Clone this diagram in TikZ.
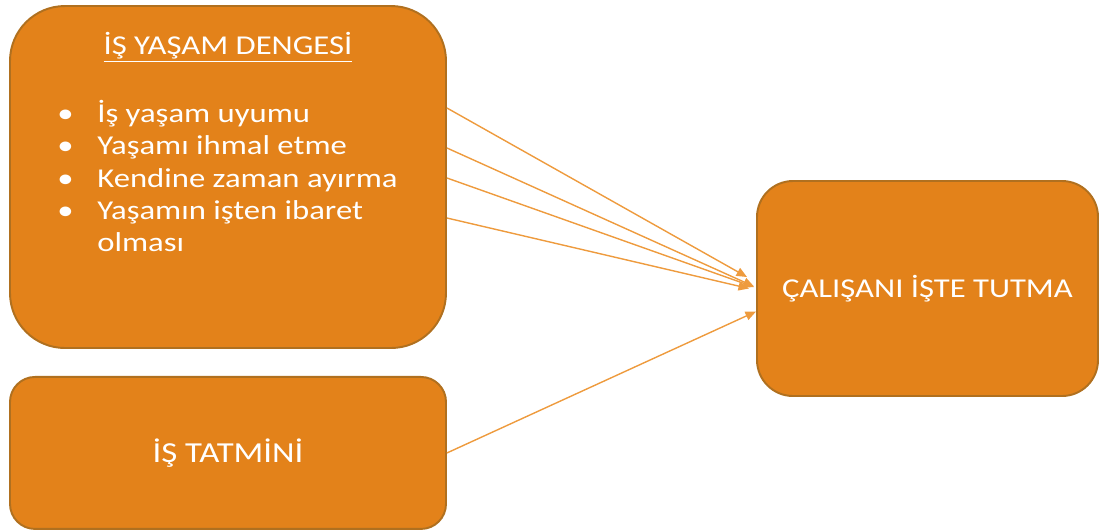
\documentclass[tikz,border=0pt]{standalone}
\usepackage{fontspec}
\setmainfont{Carlito}[FakeStretch=1.2]
\usepackage{tikz}
\usetikzlibrary{arrows.meta,positioning}
\definecolor{boxfill}{HTML}{E3821A}
\definecolor{boxedge}{HTML}{B0701F}
\definecolor{arrowline}{HTML}{EE9B3E}
\tikzset{
  factorbox/.style={
    draw=boxedge,
    line width=1.1pt,
    fill=boxfill,
    text=white,
    align=center,
    inner sep=6pt
  },
  boxtext/.style={text=white, font=\fontsize{15.5}{18.4}\selectfont, align=left, inner sep=0pt},
  linkarrow/.style={-{Triangle[length=6pt,width=5pt]}, line width=0.8pt, draw=arrowline, fill=arrowline}
}
\newcommand{\itemdot}{\makebox[0.8cm][l]{\textbullet}}

\begin{document}
\begin{tikzpicture}
  \useasboundingbox (0,0) rectangle (22,-10.58);

  \node[factorbox, rounded corners=1.1cm, minimum width=8.72cm, minimum height=6.84cm] (balance) at (4.56,-3.54) {};
  \node[factorbox, rounded corners=0.5cm, minimum width=8.72cm, minimum height=3.04cm,
        below=0.54cm of balance, font=\fontsize{16.5}{20}\selectfont] (satisfaction) {İŞ TATMİNİ};
  \node[factorbox, rounded corners=0.72cm, minimum width=6.82cm, minimum height=4.3cm,
        font=\fontsize{15.5}{18.4}\selectfont] (retention) at (18.55,-5.77) {ÇALIŞANI İŞTE TUTMA};

  \node[boxtext, anchor=base] (title) at ([yshift=-0.98cm]balance.north) {\underline{İŞ YAŞAM DENGESİ}};
  \node[boxtext, anchor=north west] (items) at (1.14,-2.0)
    {\itemdot İş yaşam uyumu\\
     \itemdot Yaşamı ihmal etme\\
     \itemdot Kendine zaman ayırma\\
     \itemdot Yaşamın işten ibaret\\
     \hspace*{0.8cm}olması};

  \draw[linkarrow] ([yshift=1.38cm]balance.east) -- ([yshift=0.23cm, xshift=-0.18cm]retention.west);
  \draw[linkarrow] ([yshift=0.58cm]balance.east) -- ([yshift=0.04cm, xshift=-0.04cm]retention.west);
  \draw[linkarrow] ([yshift=-0.02cm]balance.east) -- ([yshift=0.03cm, xshift=-0.04cm]retention.west);
  \draw[linkarrow] ([yshift=-0.82cm]balance.east) -- ([xshift=-0.14cm]retention.west);
  \draw[linkarrow] (satisfaction.east) -- ([yshift=-0.46cm]retention.west);
\end{tikzpicture}
\end{document}
